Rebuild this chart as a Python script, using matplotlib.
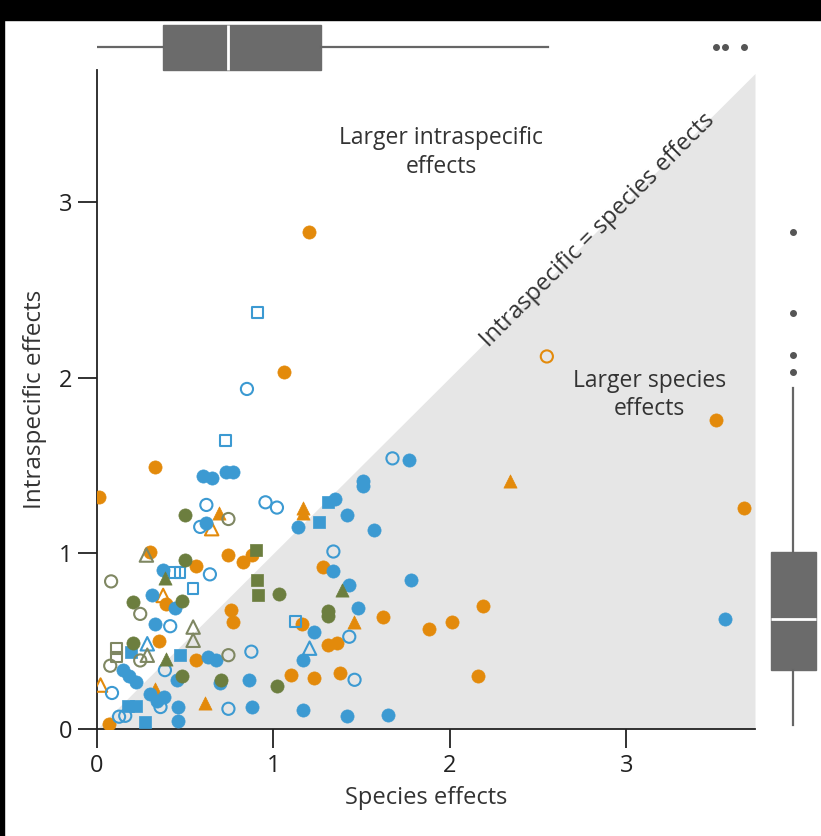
import matplotlib
matplotlib.use("Agg")
import matplotlib.pyplot as plt
from matplotlib.patches import Rectangle

plt.rcParams['font.family'] = ['Open Sans', 'DejaVu Sans']

# ---- data (species effect, intraspecific effect) ----
orange_fc_x = [1.20, 1.06, 0.33, 0.01, 3.51, 3.67, 0.30, 0.74, 0.83, 0.88, 0.56, 0.39, 0.76, 0.77, 0.35,
               0.56, 0.07, 1.28, 1.16, 1.62, 1.31, 1.36, 1.10, 1.23, 1.38, 2.19, 2.01, 1.88, 2.16]
orange_fc_y = [2.83, 2.03, 1.49, 1.32, 1.76, 1.26, 1.01, 0.99, 0.95, 0.99, 0.93, 0.71, 0.68, 0.61, 0.50,
               0.39, 0.03, 0.92, 0.60, 0.64, 0.48, 0.49, 0.31, 0.29, 0.32, 0.70, 0.61, 0.57, 0.30]
orange_oc_x = [2.55]
orange_oc_y = [2.12]
orange_ft_x = [2.34, 1.17, 1.17, 0.69, 1.455, 0.33, 0.61]
orange_ft_y = [1.41, 1.26, 1.23, 1.23, 0.61, 0.23, 0.15]
orange_ot_x = [0.65, 0.375, 0.02]
orange_ot_y = [1.14, 0.76, 0.25]

blue_fc_x = [0.60, 0.65, 0.73, 0.77, 0.62, 1.77, 1.51, 1.51, 1.35, 1.42, 1.14, 1.57, 1.335, 1.78, 1.43,
             1.48, 1.23, 1.165, 0.86, 0.88, 1.17, 1.415, 1.65, 3.56, 0.375, 0.31, 0.44, 0.33, 0.63,
             0.675, 0.15, 0.18, 0.22, 0.455, 0.70, 0.30, 0.38, 0.34, 0.46, 0.46]
blue_fc_y = [1.44, 1.43, 1.46, 1.46, 1.17, 1.53, 1.41, 1.38, 1.31, 1.22, 1.15, 1.13, 0.90, 0.85, 0.82,
             0.69, 0.55, 0.39, 0.28, 0.125, 0.11, 0.075, 0.08, 0.625, 0.905, 0.76, 0.69, 0.60, 0.41,
             0.39, 0.335, 0.30, 0.27, 0.28, 0.26, 0.20, 0.18, 0.16, 0.125, 0.045]
blue_oc_x = [0.62, 0.585, 0.85, 1.675, 0.955, 1.02, 1.34, 0.64, 0.415, 0.875, 1.43, 1.46, 0.385, 0.085,
             0.36, 0.745, 0.125, 0.16]
blue_oc_y = [1.275, 1.15, 1.935, 1.54, 1.29, 1.26, 1.01, 0.88, 0.585, 0.44, 0.525, 0.28, 0.335, 0.205,
             0.125, 0.115, 0.07, 0.075]
blue_fs_x = [1.31, 1.26, 0.19, 0.47, 0.175, 0.22, 0.27]
blue_fs_y = [1.29, 1.18, 0.44, 0.42, 0.13, 0.13, 0.04]
blue_os_x = [0.91, 0.73, 0.44, 0.47, 0.545, 1.125]
blue_os_y = [2.37, 1.64, 0.89, 0.89, 0.80, 0.61]
blue_ot_x = [0.285, 1.205]
blue_ot_y = [0.485, 0.46]

olive_fc_x = [0.50, 0.50, 0.205, 0.48, 0.205, 0.48, 0.705, 1.03, 1.31, 1.31, 1.02]
olive_fc_y = [1.22, 0.96, 0.72, 0.73, 0.49, 0.30, 0.28, 0.77, 0.67, 0.645, 0.245]
olive_oc_x = [0.745, 0.08, 0.245, 0.245, 0.075, 0.745]
olive_oc_y = [1.195, 0.84, 0.655, 0.39, 0.36, 0.42]
olive_fs_x = [0.90, 0.905, 0.91]
olive_fs_y = [1.02, 0.85, 0.76]
olive_os_x = [0.11, 0.11]
olive_os_y = [0.46, 0.41]
olive_ft_x = [0.385, 0.39, 1.39]
olive_ft_y = [0.86, 0.40, 0.79]
olive_ot_x = [0.28, 0.545, 0.545, 0.285]
olive_ot_y = [0.99, 0.58, 0.505, 0.42]

# marginal box plots
top_box = dict(whislo=0.0, q1=0.375, med=0.744, q3=1.267, whishi=2.557, fliers=[3.51, 3.56, 3.67])
right_box = dict(whislo=0.02, q1=0.336, med=0.626, q3=1.007, whishi=1.94, fliers=[2.03, 2.13, 2.37, 2.83])

xmax = 3.73
ymax = 3.75

blue = '#3c9ad2'
orange = '#e38a0b'
olive = '#6c7e3f'
olive_open = '#7f8762'

fig = plt.figure(figsize=(8.21, 8.36), dpi=100)
fig.patches.append(Rectangle((0, 1 - 20 / 836), 1, 20 / 836, transform=fig.transFigure, color='black', zorder=-1))
fig.patches.append(Rectangle((0, 0), 4 / 821, 1, transform=fig.transFigure, color='black', zorder=-1))

ax = fig.add_axes([97 / 821, 1 - 729 / 836, 658 / 821, 659 / 836])
ax.fill_between([0, xmax], [0, 0], [0, xmax], color='#e6e6e6', lw=0, zorder=0)

s = 90
def filled(xs, ys, c, m, size=s):
    ax.scatter(xs, ys, s=size, marker=m, facecolor=c, edgecolor=c, linewidth=0.5, zorder=3)

def hollow(xs, ys, c, m, size=s):
    ax.scatter(xs, ys, s=size * 0.85, marker=m, facecolor='none', edgecolor=c, linewidth=1.5, zorder=3)

filled(orange_fc_x, orange_fc_y, orange, 'o')
hollow(orange_oc_x, orange_oc_y, orange, 'o')
filled(orange_ft_x, orange_ft_y, orange, '^')
hollow(orange_ot_x, orange_ot_y, orange, '^', 110)
filled(blue_fc_x, blue_fc_y, blue, 'o')
hollow(blue_oc_x, blue_oc_y, blue, 'o')
filled(blue_fs_x, blue_fs_y, blue, 's', 75)
hollow(blue_os_x, blue_os_y, blue, 's', 70)
hollow(blue_ot_x, blue_ot_y, blue, '^', 110)
filled(olive_fc_x, olive_fc_y, olive, 'o')
hollow(olive_oc_x, olive_oc_y, olive_open, 'o')
filled(olive_fs_x, olive_fs_y, olive, 's', 75)
hollow(olive_os_x, olive_os_y, olive_open, 's', 70)
filled(olive_ft_x, olive_ft_y, olive, '^')
hollow(olive_ot_x, olive_ot_y, olive_open, '^', 110)

ax.set_xlim(0, xmax)
ax.set_ylim(0, ymax)
ax.set_xticks([0, 1, 2, 3])
ax.set_yticks([0, 1, 2, 3])
ax.tick_params(direction='out', length=14, width=1.3, labelsize=17, colors='#222222', pad=4)
for side in ['top', 'right']:
    ax.spines[side].set_visible(False)
for side in ['left', 'bottom']:
    ax.spines[side].set_linewidth(1.3)
    ax.spines[side].set_color('#222222')
ax.set_xlabel('Species effects', fontsize=17, color='#333333', labelpad=6)
ax.set_ylabel('Intraspecific effects', fontsize=17.5, color='#333333', labelpad=8)

ax.text(1.95, 3.28, 'Larger intraspecific\neffects', ha='center', va='center', fontsize=16.5,
        color='#333333', linespacing=1.25)
ax.text(3.13, 1.9, 'Larger species\neffects', ha='center', va='center', fontsize=16.5,
        color='#333333', linespacing=1.25)
ax.text(2.84, 2.84, 'Intraspecific = species effects', ha='center', va='center', fontsize=17,
        rotation=45, rotation_mode='anchor', color='#333333')

box_kw = dict(patch_artist=True, showfliers=True, widths=0.9,
              boxprops=dict(facecolor='#6b6b6b', edgecolor='#6b6b6b'),
              medianprops=dict(color='white', linewidth=2),
              whiskerprops=dict(color='#666666', linewidth=1.6),
              capprops=dict(linewidth=0),
              flierprops=dict(marker='o', markersize=4, markerfacecolor='#555555', markeredgecolor='#555555'))

axt = fig.add_axes([97 / 821, 1 - 72 / 836, 658 / 821, 50 / 836])
axt.bxp([top_box], vert=False, **box_kw)
axt.set_xlim(0, xmax)
axt.set_ylim(0.5, 1.5)
axt.axis('off')

axr = fig.add_axes([768 / 821, 1 - 729 / 836, 50 / 821, 659 / 836])
axr.bxp([right_box], vert=True, **box_kw)
axr.set_ylim(0, ymax)
axr.set_xlim(0.5, 1.5)
axr.axis('off')

fig.savefig('out.png', dpi=100)
